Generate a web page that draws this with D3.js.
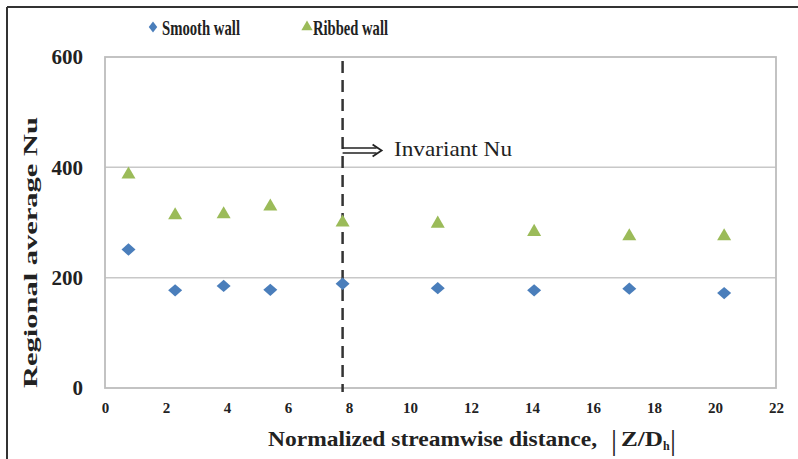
<!DOCTYPE html>
<html><head><meta charset="utf-8">
<script src="https://cdn.jsdelivr.net/npm/d3@7"></script>
<style>body{margin:0;background:#fff}svg{display:block}</style>
</head><body>
<script>
const zPos = [0.77, 2.3, 3.89, 5.42, 7.79, 10.91, 14.07, 17.19, 20.3];
const smoothWall = [251, 177, 185, 178, 189, 181, 177, 180, 172];
const ribbedWall = [387, 313, 315, 329, 300, 298, 283, 275, 275];
const xTicks = [0,2,4,6,8,10,12,14,16,18,20,22];
const yTicks = [0,200,400,600];
const invariantZ = 7.79;
const invariantLabel = "Invariant Nu";
const seriesNames = ["Smooth wall", "Ribbed wall"];

const W = 798, H = 459;
const svg = d3.select("body").append("svg").attr("width", W).attr("height", H);
const font = "'Liberation Serif','Times New Roman',serif";
const ink = "#222";

// outer frame
svg.append("line").attr("x1",7).attr("x2",W).attr("y1",7).attr("y2",7).attr("stroke","#333").attr("stroke-width",2);
svg.append("line").attr("x1",7).attr("x2",7).attr("y1",7).attr("y2",H).attr("stroke","#333").attr("stroke-width",2);

const x = d3.scaleLinear().domain([0,22]).range([105,776]);
const y = d3.scaleLinear().domain([0,600]).range([388,57]);

// gridlines
svg.append("g").selectAll("line").data(yTicks.slice(1,3)).join("line")
  .attr("x1",x(0)).attr("x2",x(22)).attr("y1",d=>y(d)).attr("y2",d=>y(d))
  .attr("stroke","#c8c8c8").attr("stroke-width",1.5);
// plot border
svg.append("rect").attr("x",x(0)).attr("y",y(600)).attr("width",x(22)-x(0)).attr("height",y(0)-y(600))
  .attr("fill","none").attr("stroke","#bdbdbd").attr("stroke-width",1.8);

// axes
const xAxis = svg.append("g").attr("transform",`translate(0,${y(0)})`)
  .call(d3.axisBottom(x).tickValues(xTicks).tickSize(0).tickPadding(14).tickFormat(d3.format("d")));
xAxis.select(".domain").remove();
xAxis.selectAll("text").attr("font-family",font).attr("font-weight","bold").attr("font-size",15).attr("fill",ink);
const yAxis = svg.append("g").attr("transform",`translate(${x(0)},0)`)
  .call(d3.axisLeft(y).tickValues(yTicks).tickSize(0).tickPadding(22).tickFormat(d3.format("d")));
yAxis.select(".domain").remove();
yAxis.selectAll("text").attr("font-family",font).attr("font-weight","bold").attr("font-size",21).attr("fill",ink);

// axis titles
svg.append("text").attr("transform","translate(37,252.5) rotate(-90)").attr("text-anchor","middle")
  .attr("font-family",font).attr("font-weight","bold").attr("font-size",19).attr("fill",ink)
  .attr("textLength",271).attr("lengthAdjust","spacingAndGlyphs")
  .text("Regional average Nu");
const xt = svg.append("text").attr("y",446)
  .attr("font-family",font).attr("font-weight","bold").attr("font-size",22).attr("fill",ink);
xt.append("tspan").attr("x",268).attr("textLength",329).attr("lengthAdjust","spacingAndGlyphs").text("Normalized streamwise distance,");
xt.append("tspan").attr("x",611).attr("font-weight","normal").attr("font-size",30).attr("dy",4).text("|");
xt.append("tspan").attr("x",621).attr("dy",-4).attr("textLength",42).attr("lengthAdjust","spacingAndGlyphs").text("Z/D");
xt.append("tspan").attr("x",663).attr("font-size",12).attr("dy",4).text("h");
xt.append("tspan").attr("x",670).attr("font-weight","normal").attr("font-size",30).attr("dy",0).text("|");

// dashed invariant line
svg.append("line").attr("x1",x(invariantZ)).attr("x2",x(invariantZ)).attr("y1",61).attr("y2",392)
  .attr("stroke","#333").attr("stroke-width",2.5).attr("stroke-dasharray","12,7");

// arrow (double shaft)
const ax0 = x(invariantZ), ax1 = x(invariantZ)+39, ay = 150.5;
svg.append("path").attr("d",`M${ax0},${ay-2.5}H${ax1-5} M${ax0},${ay+2.5}H${ax1-5}`).attr("stroke",ink).attr("stroke-width",1.5).attr("fill","none");
svg.append("path").attr("d",`M${ax1-9},${ay-6}L${ax1},${ay}L${ax1-9},${ay+6}`).attr("stroke",ink).attr("stroke-width",1.8).attr("fill","none");
svg.append("text").attr("x",394).attr("y",156).attr("font-family",font).attr("font-size",21).attr("fill",ink)
  .attr("textLength",118).attr("lengthAdjust","spacingAndGlyphs").text(invariantLabel);

// markers
svg.append("g").selectAll("path").data(zPos.map((z,i)=>[z,smoothWall[i]])).join("path")
  .attr("transform",d=>`translate(${x(d[0])},${y(d[1])}) scale(1,0.88) rotate(45)`)
  .attr("d",d3.symbol().type(d3.symbolSquare).size(98)())
  .attr("fill","#4a7ebb");
svg.append("g").selectAll("path").data(zPos.map((z,i)=>[z,ribbedWall[i]])).join("path")
  .attr("transform",d=>`translate(${x(d[0])},${y(d[1])})`)
  .attr("d",d3.symbol().type(d3.symbolTriangle).size(85)())
  .attr("fill","#9bbb59");

// legend
const lg = svg.append("g");
lg.append("path").attr("transform","translate(153,27) scale(0.85,1.1) rotate(45)").attr("d",d3.symbol().type(d3.symbolSquare).size(50)()).attr("fill","#4a7ebb");
lg.append("text").attr("x",162).attr("y",35).attr("font-family",font).attr("font-weight","bold").attr("font-size",21).attr("fill",ink)
  .attr("textLength",78).attr("lengthAdjust","spacingAndGlyphs").text(seriesNames[0]);
lg.append("path").attr("transform","translate(307,27)").attr("d",d3.symbol().type(d3.symbolTriangle).size(55)()).attr("fill","#9bbb59");
lg.append("text").attr("x",313).attr("y",35).attr("font-family",font).attr("font-weight","bold").attr("font-size",21).attr("fill",ink)
  .attr("textLength",75).attr("lengthAdjust","spacingAndGlyphs").text(seriesNames[1]);
</script>
</body></html>
